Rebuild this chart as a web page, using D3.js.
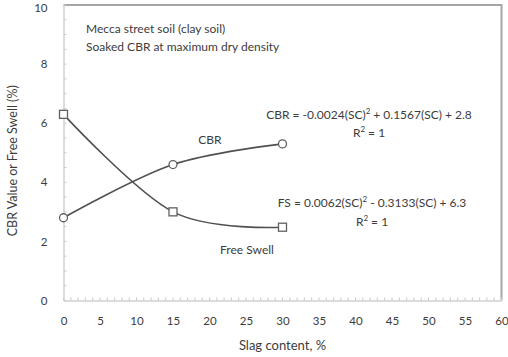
<!DOCTYPE html>
<html>
<head>
<meta charset="utf-8">
<script src="https://cdn.jsdelivr.net/npm/d3@7"></script>
<style>
  html, body { margin: 0; padding: 0; background: #fff; }
  svg { display: block; }
  text { font-family: Lato, "Open Sans", sans-serif; fill: #3c3c3c; }
</style>
</head>
<body>
<div id="chart"></div>
<script>
// Slag content (%) tested
const slagContent = [0, 15, 30];
// Soaked CBR values (%)
const cbrValues = [2.8, 4.6, 5.3];
// Free swell values (%)
const freeSwellValues = [6.3, 3.0, 2.48];
// Axis ticks
const xTicks = [0, 5, 10, 15, 20, 25, 30, 35, 40, 45, 50, 55, 60];
const yTicks = [0, 2, 4, 6, 8, 10];

const W = 508, H = 357;
const m = { left: 63.5, right: 6.5, top: 5, bottom: 56.5 };

const svg = d3.select("#chart").append("svg")
  .attr("width", W).attr("height", H);

const x = d3.scaleLinear().domain([0, 60]).range([m.left, W - m.right]);
const y = d3.scaleLinear().domain([0, 10]).range([H - m.bottom, m.top]);

// Plot frame (top and right)
svg.append("path")
  .attr("d", `M${x(0)},${y(10)}H${x(60)}V${y(0)}`)
  .attr("fill", "none").attr("stroke", "#a6a6a6").attr("stroke-width", 2);

// Minor ticks on the x axis (every 1 %)
svg.append("g").selectAll("line")
  .data(d3.range(0, 61, 1))
  .join("line")
  .attr("x1", d => x(d)).attr("x2", d => x(d))
  .attr("y1", y(0) - 3).attr("y2", y(0))
  .attr("stroke", "#c8c8c8").attr("stroke-width", 1);

// Minor ticks on the y axis (every 0.5)
svg.append("g").selectAll("line")
  .data(d3.range(0, 10.01, 0.5))
  .join("line")
  .attr("x1", x(0)).attr("x2", x(0) + 3)
  .attr("y1", d => y(d)).attr("y2", d => y(d))
  .attr("stroke", "#c8c8c8").attr("stroke-width", 1);

// Axes
const xAxis = svg.append("g")
  .attr("transform", `translate(0,${y(0)})`)
  .call(d3.axisBottom(x).tickValues(xTicks).tickSize(0).tickPadding(16));
xAxis.select(".domain").attr("stroke", "#d0d0d0").attr("stroke-width", 1.5);
xAxis.selectAll("text").attr("font-size", 11.5).attr("fill", "#3c3c3c")
  .attr("font-family", "Lato, sans-serif");

const yAxis = svg.append("g")
  .attr("transform", `translate(${x(0)},0)`)
  .call(d3.axisLeft(y).tickValues(yTicks).tickSize(0).tickPadding(16));
yAxis.select(".domain").attr("stroke", "#d0d0d0").attr("stroke-width", 1.5);
yAxis.selectAll("text").attr("font-size", 11.5).attr("fill", "#3c3c3c")
  .attr("font-family", "Lato, sans-serif");
// keep the top label inside the page
yAxis.selectAll(".tick").filter(d => d === 10).select("text").attr("dy", "0.6em");

// Axis titles
svg.append("text")
  .attr("x", (x(0) + x(60)) / 2).attr("y", 350)
  .attr("text-anchor", "middle").attr("font-size", 13)
  .text("Slag content, %");

svg.append("text")
  .attr("transform", `translate(17,${(y(0) + y(10)) / 2 + 8}) rotate(-90)`)
  .attr("text-anchor", "middle").attr("font-size", 12.5)
  .text("CBR Value or Free Swell (%)");

// Smoothed series lines
const line = d3.line()
  .x(d => x(d[0])).y(d => y(d[1]))
  .curve(d3.curveCardinal.tension(0));

const cbrPts = slagContent.map((s, i) => [s, cbrValues[i]]);
const fsPts = slagContent.map((s, i) => [s, freeSwellValues[i]]);

svg.append("path").datum(cbrPts).attr("d", line)
  .attr("fill", "none").attr("stroke", "#505050").attr("stroke-width", 1.6);
svg.append("path").datum(fsPts).attr("d", line)
  .attr("fill", "none").attr("stroke", "#505050").attr("stroke-width", 1.6);

// Markers: circles for CBR, squares for free swell
svg.append("g").selectAll("circle")
  .data(cbrPts).join("circle")
  .attr("cx", d => x(d[0])).attr("cy", d => y(d[1])).attr("r", 4)
  .attr("fill", "#fff").attr("stroke", "#606060").attr("stroke-width", 1.3);
svg.append("g").selectAll("rect")
  .data(fsPts).join("rect")
  .attr("x", d => x(d[0]) - 4).attr("y", d => y(d[1]) - 4)
  .attr("width", 8).attr("height", 8)
  .attr("fill", "#fff").attr("stroke", "#606060").attr("stroke-width", 1.3);

// Annotations
svg.append("text").attr("x", 86).attr("y", 33).attr("font-size", 12)
  .text("Mecca street soil (clay soil)");
svg.append("text").attr("x", 86).attr("y", 51).attr("font-size", 12)
  .text("Soaked CBR at maximum dry density");

svg.append("text").attr("x", 210).attr("y", 144).attr("text-anchor", "middle")
  .attr("font-size", 12).text("CBR");
svg.append("text").attr("x", 247).attr("y", 254).attr("text-anchor", "middle")
  .attr("font-size", 12).text("Free Swell");

function equation(cx, cy, parts) {
  const t = svg.append("text").attr("x", cx).attr("y", cy)
    .attr("text-anchor", "middle").attr("font-size", 12);
  parts.forEach(p => {
    const ts = t.append("tspan").text(p.t);
    if (p.sup) ts.attr("font-size", 8).attr("dy", -5);
    if (p.down) ts.attr("dy", 5);
  });
}

equation(369, 119, [
  { t: "CBR = -0.0024(SC)" }, { t: "2", sup: true },
  { t: " + 0.1567(SC) + 2.8", down: true }
]);
equation(369, 137, [{ t: "R" }, { t: "2", sup: true }, { t: " = 1", down: true }]);

equation(372, 207, [
  { t: "FS = 0.0062(SC)" }, { t: "2", sup: true },
  { t: " - 0.3133(SC) + 6.3", down: true }
]);
equation(372, 226, [{ t: "R" }, { t: "2", sup: true }, { t: " = 1", down: true }]);
</script>
</body>
</html>
